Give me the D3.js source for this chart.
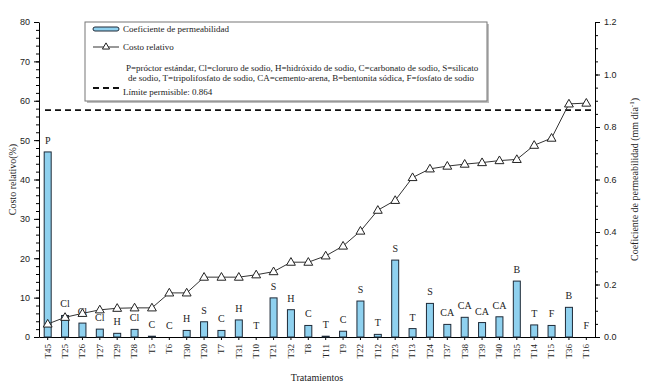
<!DOCTYPE html>
<html lang="es">
<head>
<meta charset="UTF-8">
<title>Costo relativo y coeficiente de permeabilidad</title>
<script src="https://cdn.jsdelivr.net/npm/d3@7/dist/d3.min.js"></script>
<style>
    body { margin: 0; background: #fff; }
    svg { display: block; }
    text { font-family: "Liberation Serif", "DejaVu Serif", serif; fill: #222; }
    .num text { font-family: "Liberation Sans", Arial, sans-serif; font-size: 9px; }
</style>
</head>
<body>
<script>
    // treatments, in chart order
    var categories = ["T45", "T25", "T26", "T27", "T29", "T28", "T5", "T6", "T30", "T20", "T7", "T31",
        "T10", "T21", "T32", "T8", "T11", "T9", "T22", "T12", "T23", "T13", "T24", "T37", "T38",
        "T39", "T40", "T35", "T14", "T15", "T36", "T16"];
    // stabilizer labels above bars
    var barLabels = ["P", "Cl", "Cl", "Cl", "H", "Cl", "C", "C", "H", "S", "C", "H", "T", "S", "H", "C",
        "T", "C", "S", "T", "S", "T", "S", "CA", "CA", "CA", "CA", "B", "T", "F", "B", "F"];
    // coeficiente de permeabilidad (mm/dia) - right axis
    var coef = [0.705, 0.082, 0.053, 0.030, 0.014, 0.029, 0.003, 0, 0.025, 0.058, 0.025, 0.065,
        0, 0.149, 0.104, 0.044, 0.003, 0.022, 0.137, 0.010, 0.293, 0.032, 0.128, 0.048, 0.075,
        0.055, 0.077, 0.213, 0.046, 0.044, 0.113, 0];
    // costo relativo (%) - left axis
    var costo = [3.3, 5.0, 6.0, 6.9, 7.3, 7.4, 7.4, 11.2, 11.2, 15.2, 15.2, 15.2, 15.8, 16.6, 19.0,
        19.0, 20.6, 23.1, 26.9, 32.2, 34.7, 40.5, 42.7, 43.4, 43.9, 44.3, 44.8, 45.1, 48.7, 50.5,
        59.2, 59.4];
    var limite = 0.864;
    var leftTicks = [0, 10, 20, 30, 40, 50, 60, 70, 80];
    var rightTicks = [0, 0.2, 0.4, 0.6, 0.8, 1.0, 1.2];

    var W = 650, H = 390;
    var pad = { left: 39, right: 55, top: 22, bottom: 53 };
    var x0 = pad.left, x1 = W - pad.right, yTop = pad.top, yBot = H - pad.bottom;

    var svg = d3.select("body").append("svg")
        .attr("width", W)
        .attr("height", H);

    var x = d3.scaleBand().domain(categories).range([x0, x1]).padding(0);
    var yL = d3.scaleLinear().domain([0, 80]).range([yBot, yTop]);
    var yR = d3.scaleLinear().domain([0, 1.2]).range([yBot, yTop]);

    // minor ticks
    svg.append("g").attr("class", "num")
        .attr("transform", "translate(" + x0 + ",0)")
        .call(d3.axisLeft(yL).tickValues(d3.range(0, 81, 2)).tickSize(3).tickFormat(""))
        .call(g => g.select(".domain").remove());
    svg.append("g").attr("class", "num")
        .attr("transform", "translate(" + x1 + ",0)")
        .call(d3.axisRight(yR).tickValues(d3.range(0, 1.21, 0.05)).tickSize(3).tickFormat(""))
        .call(g => g.select(".domain").remove());

    // major axes
    svg.append("g").attr("class", "num")
        .attr("transform", "translate(" + x0 + ",0)")
        .call(d3.axisLeft(yL).tickValues(leftTicks).tickSize(5).tickSizeOuter(0).tickPadding(4))
        .call(g => g.selectAll(".tick text").attr("fill", "#333"));
    svg.append("g").attr("class", "num")
        .attr("transform", "translate(" + x1 + ",0)")
        .call(d3.axisRight(yR).tickValues(rightTicks).tickFormat(d3.format(".1f")).tickSize(5).tickSizeOuter(0).tickPadding(4))
        .call(g => g.selectAll(".tick text").attr("fill", "#333"));

    var xg = svg.append("g")
        .attr("transform", "translate(0," + yBot + ")")
        .call(d3.axisBottom(x).tickSize(3).tickSizeOuter(0));
    xg.selectAll(".tick text")
        .attr("font-size", "9px")
        .attr("font-family", "Liberation Serif, serif")
        .attr("transform", "rotate(-90)")
        .attr("text-anchor", "end")
        .attr("x", -7)
        .attr("y", 0)
        .attr("dy", "0.32em");

    // bars
    var bw = 7;
    svg.selectAll("rect.bar")
        .data(coef)
        .enter()
        .append("rect")
        .attr("class", "bar")
        .attr("x", (d, i) => x(categories[i]) + x.bandwidth() / 2 - bw / 2)
        .attr("width", bw)
        .attr("y", d => yR(d))
        .attr("height", d => yBot - yR(d))
        .attr("fill", "#8fd1ef")
        .attr("stroke", "#1e2a38")
        .attr("stroke-width", d => d > 0 ? 1 : 0);

    // labels above bars
    svg.selectAll("text.lab")
        .data(barLabels)
        .enter()
        .append("text")
        .attr("class", "lab")
        .attr("x", (d, i) => x(categories[i]) + x.bandwidth() / 2)
        .attr("y", (d, i) => yR(coef[i]) - 8)
        .attr("text-anchor", "middle")
        .attr("font-size", "10px")
        .text(d => d);

    // limite permisible
    svg.append("line")
        .attr("x1", x0 + 6).attr("x2", x1 - 2)
        .attr("y1", yR(limite)).attr("y2", yR(limite))
        .attr("stroke", "#111")
        .attr("stroke-width", 1.8)
        .attr("stroke-dasharray", "6,4");

    // costo relativo line
    var line = d3.line()
        .x((d, i) => x(categories[i]) + x.bandwidth() / 2)
        .y(d => yL(d));
    svg.append("path")
        .datum(costo)
        .attr("d", line)
        .attr("fill", "none")
        .attr("stroke", "#333")
        .attr("stroke-width", 1);

    var tri = d3.symbol().type(d3.symbolTriangle).size(34);
    svg.selectAll("path.tri")
        .data(costo)
        .enter()
        .append("path")
        .attr("class", "tri")
        .attr("d", tri)
        .attr("transform", (d, i) => "translate(" + (x(categories[i]) + x.bandwidth() / 2) + "," + (yL(d) + 0.5) + ")")
        .attr("fill", "#fff")
        .attr("stroke", "#222")
        .attr("stroke-width", 1);

    // axis titles
    svg.append("text")
        .attr("transform", "translate(16," + ((yTop + yBot) / 2) + ") rotate(-90)")
        .attr("text-anchor", "middle")
        .attr("font-size", "10px")
        .text("Costo relativo(%)");
    svg.append("text")
        .attr("transform", "translate(638," + ((yTop + yBot) / 2) + ") rotate(-90)")
        .attr("text-anchor", "middle")
        .attr("font-size", "10px")
        .html("Coeficiente de permeabilidad (mm día<tspan dy='-4' font-size='7px'>-1</tspan><tspan dy='4'>)</tspan>");
    svg.append("text")
        .attr("x", (x0 + x1) / 2)
        .attr("y", 381)
        .attr("text-anchor", "middle")
        .attr("font-size", "10px")
        .text("Tratamientos");

    // legend
    var lg = svg.append("g").attr("transform", "translate(85,22)");
    lg.append("rect").attr("x", 2).attr("y", 2).attr("width", 402).attr("height", 79).attr("fill", "#bdbdbd");
    lg.append("rect").attr("width", 402).attr("height", 79).attr("fill", "#fff").attr("stroke", "#777");
    lg.append("rect").attr("x", 8).attr("y", 5).attr("width", 26).attr("height", 4).attr("rx", 2)
        .attr("fill", "#8fd1ef").attr("stroke", "#1e2a38");
    lg.append("text").attr("x", 38).attr("y", 10).attr("font-size", "9px").text("Coeficiente de permeabilidad");
    lg.append("line").attr("x1", 8).attr("x2", 34).attr("y1", 25).attr("y2", 25).attr("stroke", "#333");
    lg.append("path").attr("d", d3.symbol().type(d3.symbolTriangle).size(22))
        .attr("transform", "translate(21,25)").attr("fill", "#fff").attr("stroke", "#222");
    lg.append("text").attr("x", 38).attr("y", 28).attr("font-size", "9px").text("Costo relativo");
    lg.append("text").attr("x", 41).attr("y", 49).attr("font-size", "9px")
        .text("P=próctor estándar, Cl=cloruro de sodio, H=hidróxido de sodio, C=carbonato de sodio, S=silicato");
    lg.append("text").attr("x", 43).attr("y", 59).attr("font-size", "9px")
        .text("de sodio, T=tripolifosfato de sodio, CA=cemento-arena, B=bentonita sódica, F=fosfato de sodio");
    lg.append("line").attr("x1", 8).attr("x2", 34).attr("y1", 66).attr("y2", 66)
        .attr("stroke", "#111").attr("stroke-width", 1.8).attr("stroke-dasharray", "6,4");
    lg.append("text").attr("x", 38).attr("y", 73).attr("font-size", "9px").text("Límite permisible: 0.864");
</script>
</body>
</html>
